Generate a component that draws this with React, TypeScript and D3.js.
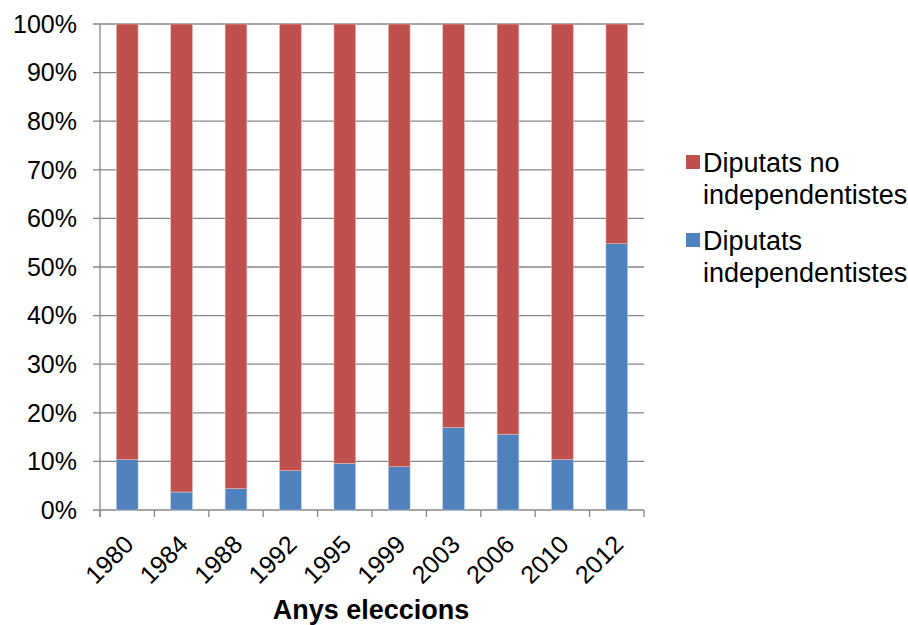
import { useEffect, useRef } from 'react';
import * as d3 from 'd3';

// election years and share of independentist deputies (%)
const years = ['1980', '1984', '1988', '1992', '1995', '1999', '2003', '2006', '2010', '2012'];
const independentistes = [10.4, 3.7, 4.4, 8.1, 9.6, 8.9, 17.0, 15.6, 10.4, 54.8];
const noIndependentistes = independentistes.map((v) => 100 - v);
const yTicks = [0, 10, 20, 30, 40, 50, 60, 70, 80, 90, 100];
const seriesNames = ['Diputats no independentistes', 'Diputats independentistes'];

const W = 908;
const H = 625;
const FONT = 'Liberation Sans, Arial, sans-serif';

const App = () => {
    const ref = useRef<SVGSVGElement>(null);

    useEffect(() => {
        const svg = d3.select(ref.current);
        svg.selectAll('*').remove();

        const left = 100, right = 644, top = 24, bottom = 510;
        const x = d3.scaleBand().domain(years).range([left, right]).paddingInner(0.6).paddingOuter(0.3);
        const y = d3.scaleLinear().domain([0, 100]).range([bottom, top]);

        // gridlines
        svg.append('g')
            .selectAll('line')
            .data(yTicks)
            .join('line')
            .attr('x1', left - 7)
            .attr('x2', right)
            .attr('y1', (d) => y(d))
            .attr('y2', (d) => y(d))
            .attr('stroke', '#868686')
            .attr('stroke-width', 1.3);

        // stacked bars
        const rows = years.map((yr, i) => ({ yr, ind: independentistes[i], no: noIndependentistes[i] }));
        const g = svg.append('g');
        g.selectAll('rect.ind')
            .data(rows)
            .join('rect')
            .attr('class', 'ind')
            .attr('x', (d) => x(d.yr)!)
            .attr('width', x.bandwidth())
            .attr('y', (d) => y(d.ind))
            .attr('height', (d) => y(0) - y(d.ind))
            .attr('fill', '#4F81BD')
            .attr('stroke', '#b9cde5')
            .attr('stroke-width', 0.6);
        g.selectAll('rect.no')
            .data(rows)
            .join('rect')
            .attr('class', 'no')
            .attr('x', (d) => x(d.yr)!)
            .attr('width', x.bandwidth())
            .attr('y', (d) => y(d.ind + d.no))
            .attr('height', (d) => y(d.ind) - y(d.ind + d.no))
            .attr('fill', '#C0504D')
            .attr('stroke', '#e6b9b8')
            .attr('stroke-width', 0.6);

        // axes lines
        svg.append('line')
            .attr('x1', left).attr('x2', left)
            .attr('y1', top).attr('y2', bottom + 7)
            .attr('stroke', '#868686').attr('stroke-width', 1.3);
        const step = (right - left) / years.length;
        svg.append('g')
            .selectAll('line')
            .data(d3.range(years.length + 1))
            .join('line')
            .attr('x1', (d) => left + d * step)
            .attr('x2', (d) => left + d * step)
            .attr('y1', bottom)
            .attr('y2', bottom + 7)
            .attr('stroke', '#868686')
            .attr('stroke-width', 1.3);

        // y labels
        svg.append('g')
            .selectAll('text')
            .data(yTicks)
            .join('text')
            .attr('x', 77)
            .attr('y', (d) => y(d))
            .attr('dy', '0.35em')
            .attr('text-anchor', 'end')
            .attr('font-family', FONT)
            .attr('font-size', 25)
            .text((d) => d + '%');

        // x labels, rotated
        svg.append('g')
            .selectAll('text')
            .data(years)
            .join('text')
            .attr('transform', (d) => `translate(${x(d)! + x.bandwidth() / 2 + 8},${bottom + 36}) rotate(-45)`)
            .attr('text-anchor', 'end')
            .attr('font-family', FONT)
            .attr('font-size', 25)
            .text((d) => d);

        // axis title
        svg.append('text')
            .attr('x', 371)
            .attr('y', 619)
            .attr('text-anchor', 'middle')
            .attr('font-family', FONT)
            .attr('font-size', 27)
            .attr('font-weight', 'bold')
            .text('Anys eleccions');

        // legend
        const legend = [
            { name: seriesNames[0], color: '#C0504D', y0: 155 },
            { name: seriesNames[1], color: '#4F81BD', y0: 233 },
        ];
        legend.forEach((l) => {
            svg.append('rect')
                .attr('x', 686).attr('y', l.y0)
                .attr('width', 14).attr('height', 14)
                .attr('fill', l.color);
            const parts = l.name.split(' ');
            const line1 = parts.slice(0, parts.length - 1).join(' ');
            const line2 = parts[parts.length - 1];
            const t = svg.append('text')
                .attr('font-family', FONT)
                .attr('font-size', 27);
            t.append('tspan').attr('x', 703).attr('y', l.y0 + 17).text(line1);
            t.append('tspan').attr('x', 703).attr('y', l.y0 + 49).text(line2);
        });
    }, []);

    return (
        <svg ref={ref} width={W} height={H} style={{ position: 'absolute', left: 0, top: 0, background: 'white' }} />
    );
};

export default App;
